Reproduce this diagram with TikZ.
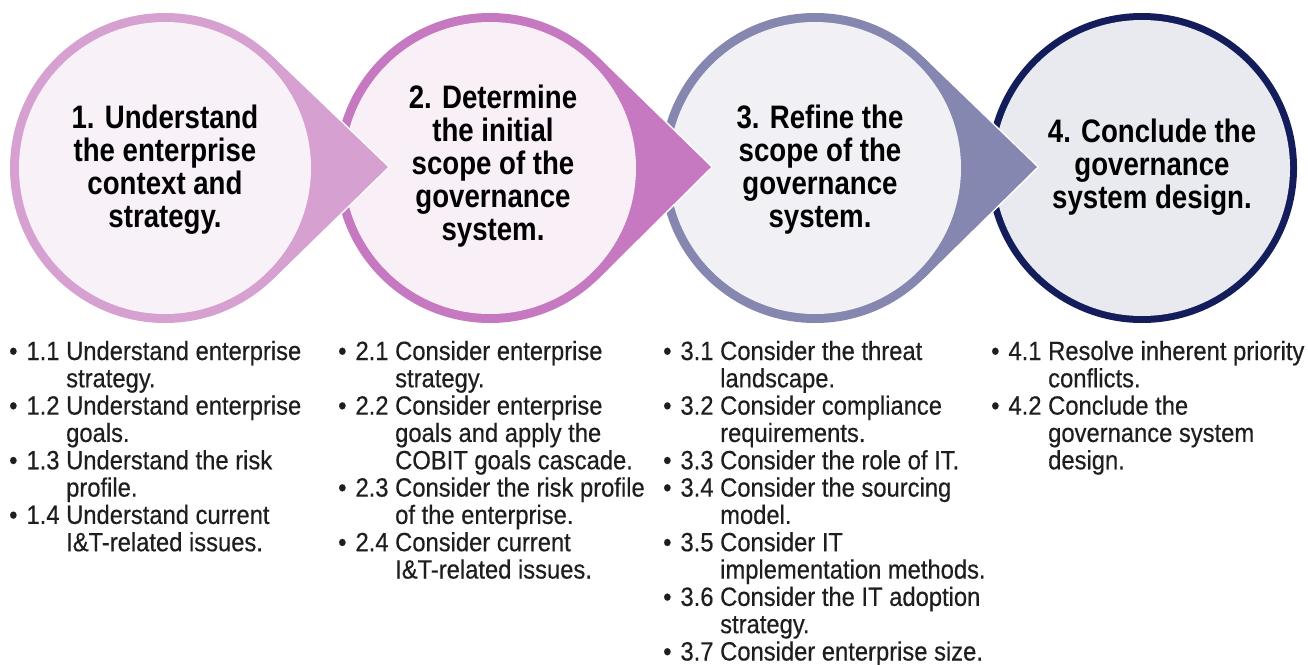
\documentclass[tikz,border=0pt]{standalone}
\usepackage{fontspec}
\setmainfont{Liberation Sans}
\newfontfamily\headfont{Liberation Sans}[FakeStretch=0.85]
\newfontfamily\bodyfont{Liberation Sans}[FakeStretch=0.9,FakeBold=0.4]
\definecolor{ringA}{HTML}{D6A0D0}
\definecolor{ringB}{HTML}{C679C0}
\definecolor{ringC}{HTML}{8587B0}
\definecolor{ringD}{HTML}{141D5C}
\definecolor{inA}{HTML}{F9F1F8}
\definecolor{inB}{HTML}{F8EFF7}
\definecolor{inC}{HTML}{F1F1F5}
\definecolor{inD}{HTML}{E9EAF0}
\definecolor{txt}{HTML}{1E1E1E}
\newcommand\itemlbl[1]{\makebox[57pt][l]{\textbullet\hspace{9pt}#1}}
\begin{document}
\begin{tikzpicture}[x=1pt,y=-1pt,
 outerc/.style={circle, inner sep=0pt, minimum size=310pt, fill=#1},
 innerc/.style={circle, inner sep=0pt, minimum size=292pt, fill=#1},
 edgeline/.style={white, line width=3pt, line join=round},
 headtxt/.style={align=center, inner sep=0pt, font=\headfont\bfseries\fontsize{32.5}{33}\selectfont, text=black},
 listtxt/.style={anchor=base west, inner sep=0pt, font=\bodyfont\fontsize{26.4}{27.3}\selectfont, text=txt}]

\fill[white] (0,0) rectangle (1308,664);
\useasboundingbox (0,0) rectangle (1308,664);

% circle 4
\node[outerc=ringD] (c4) at (1142,168) {};
\node[circle, inner sep=0pt, minimum size=296pt, fill=inD] (i4) at (c4) {};

% circle 3 with arrow
\draw[edgeline] (923.2,57) -- (1037,167) -- (923.2,279);
\node[outerc=ringC] (c3) at (815,168) {};
\fill[ringC] (923.2,57) -- (1037,167) -- (923.2,279) -- cycle;
\node[innerc=inC] (i3) at (c3) {};

% circle 2 with arrow
\draw[edgeline] (598.2,57) -- (711,167) -- (598.2,279);
\node[outerc=ringB] (c2) at (490,168) {};
\fill[ringB] (598.2,57) -- (711,167) -- (598.2,279) -- cycle;
\node[innerc=inB] (i2) at (c2) {};

% circle 1 with arrow
\draw[edgeline] (273.2,57) -- (388,167) -- (273.2,279);
\node[outerc=ringA] (c1) at (165,168) {};
\fill[ringA] (273.2,57) -- (388,167) -- (273.2,279) -- cycle;
\node[innerc=inA] (i1) at (c1) {};

% headings
\node[headtxt] (h1) at (165,170) {1. Understand\\the enterprise\\context and\\strategy.};
\node[headtxt] (h2) at (493,166) {2. Determine\\the initial\\scope of the\\governance\\system.};
\node[headtxt] (h3) at (820,170) {3. Refine the\\scope of the\\governance\\system.};
\node[headtxt] (h4) at (1152,167) {4. Conclude the\\governance\\system design.};

% lists
\node[listtxt] (l1) at (9,360) {\begin{tabular}[t]{@{}l@{}l@{}}
\itemlbl{1.1} & Understand enterprise\\
 & strategy.\\
\itemlbl{1.2} & Understand enterprise\\
 & goals.\\
\itemlbl{1.3} & Understand the risk\\
 & profile.\\
\itemlbl{1.4} & Understand current\\
 & I\&T-related issues.
\end{tabular}};

\node[listtxt] (l2) at (338,360) {\begin{tabular}[t]{@{}l@{}l@{}}
\itemlbl{2.1} & Consider enterprise\\
 & strategy.\\
\itemlbl{2.2} & Consider enterprise\\
 & goals and apply the\\
 & COBIT goals cascade.\\
\itemlbl{2.3} & Consider the risk profile\\
 & of the enterprise.\\
\itemlbl{2.4} & Consider current\\
 & I\&T-related issues.
\end{tabular}};

\node[listtxt] (l3) at (663,360) {\begin{tabular}[t]{@{}l@{}l@{}}
\itemlbl{3.1} & Consider the threat\\
 & landscape.\\
\itemlbl{3.2} & Consider compliance\\
 & requirements.\\
\itemlbl{3.3} & Consider the role of IT.\\
\itemlbl{3.4} & Consider the sourcing\\
 & model.\\
\itemlbl{3.5} & Consider IT\\
 & implementation methods.\\
\itemlbl{3.6} & Consider the IT adoption\\
 & strategy.\\
\itemlbl{3.7} & Consider enterprise size.
\end{tabular}};

\node[listtxt] (l4) at (991,360) {\begin{tabular}[t]{@{}l@{}l@{}}
\itemlbl{4.1} & Resolve inherent priority\\
 & conflicts.\\
\itemlbl{4.2} & Conclude the\\
 & governance system\\
 & design.
\end{tabular}};
\end{tikzpicture}
\end{document}
